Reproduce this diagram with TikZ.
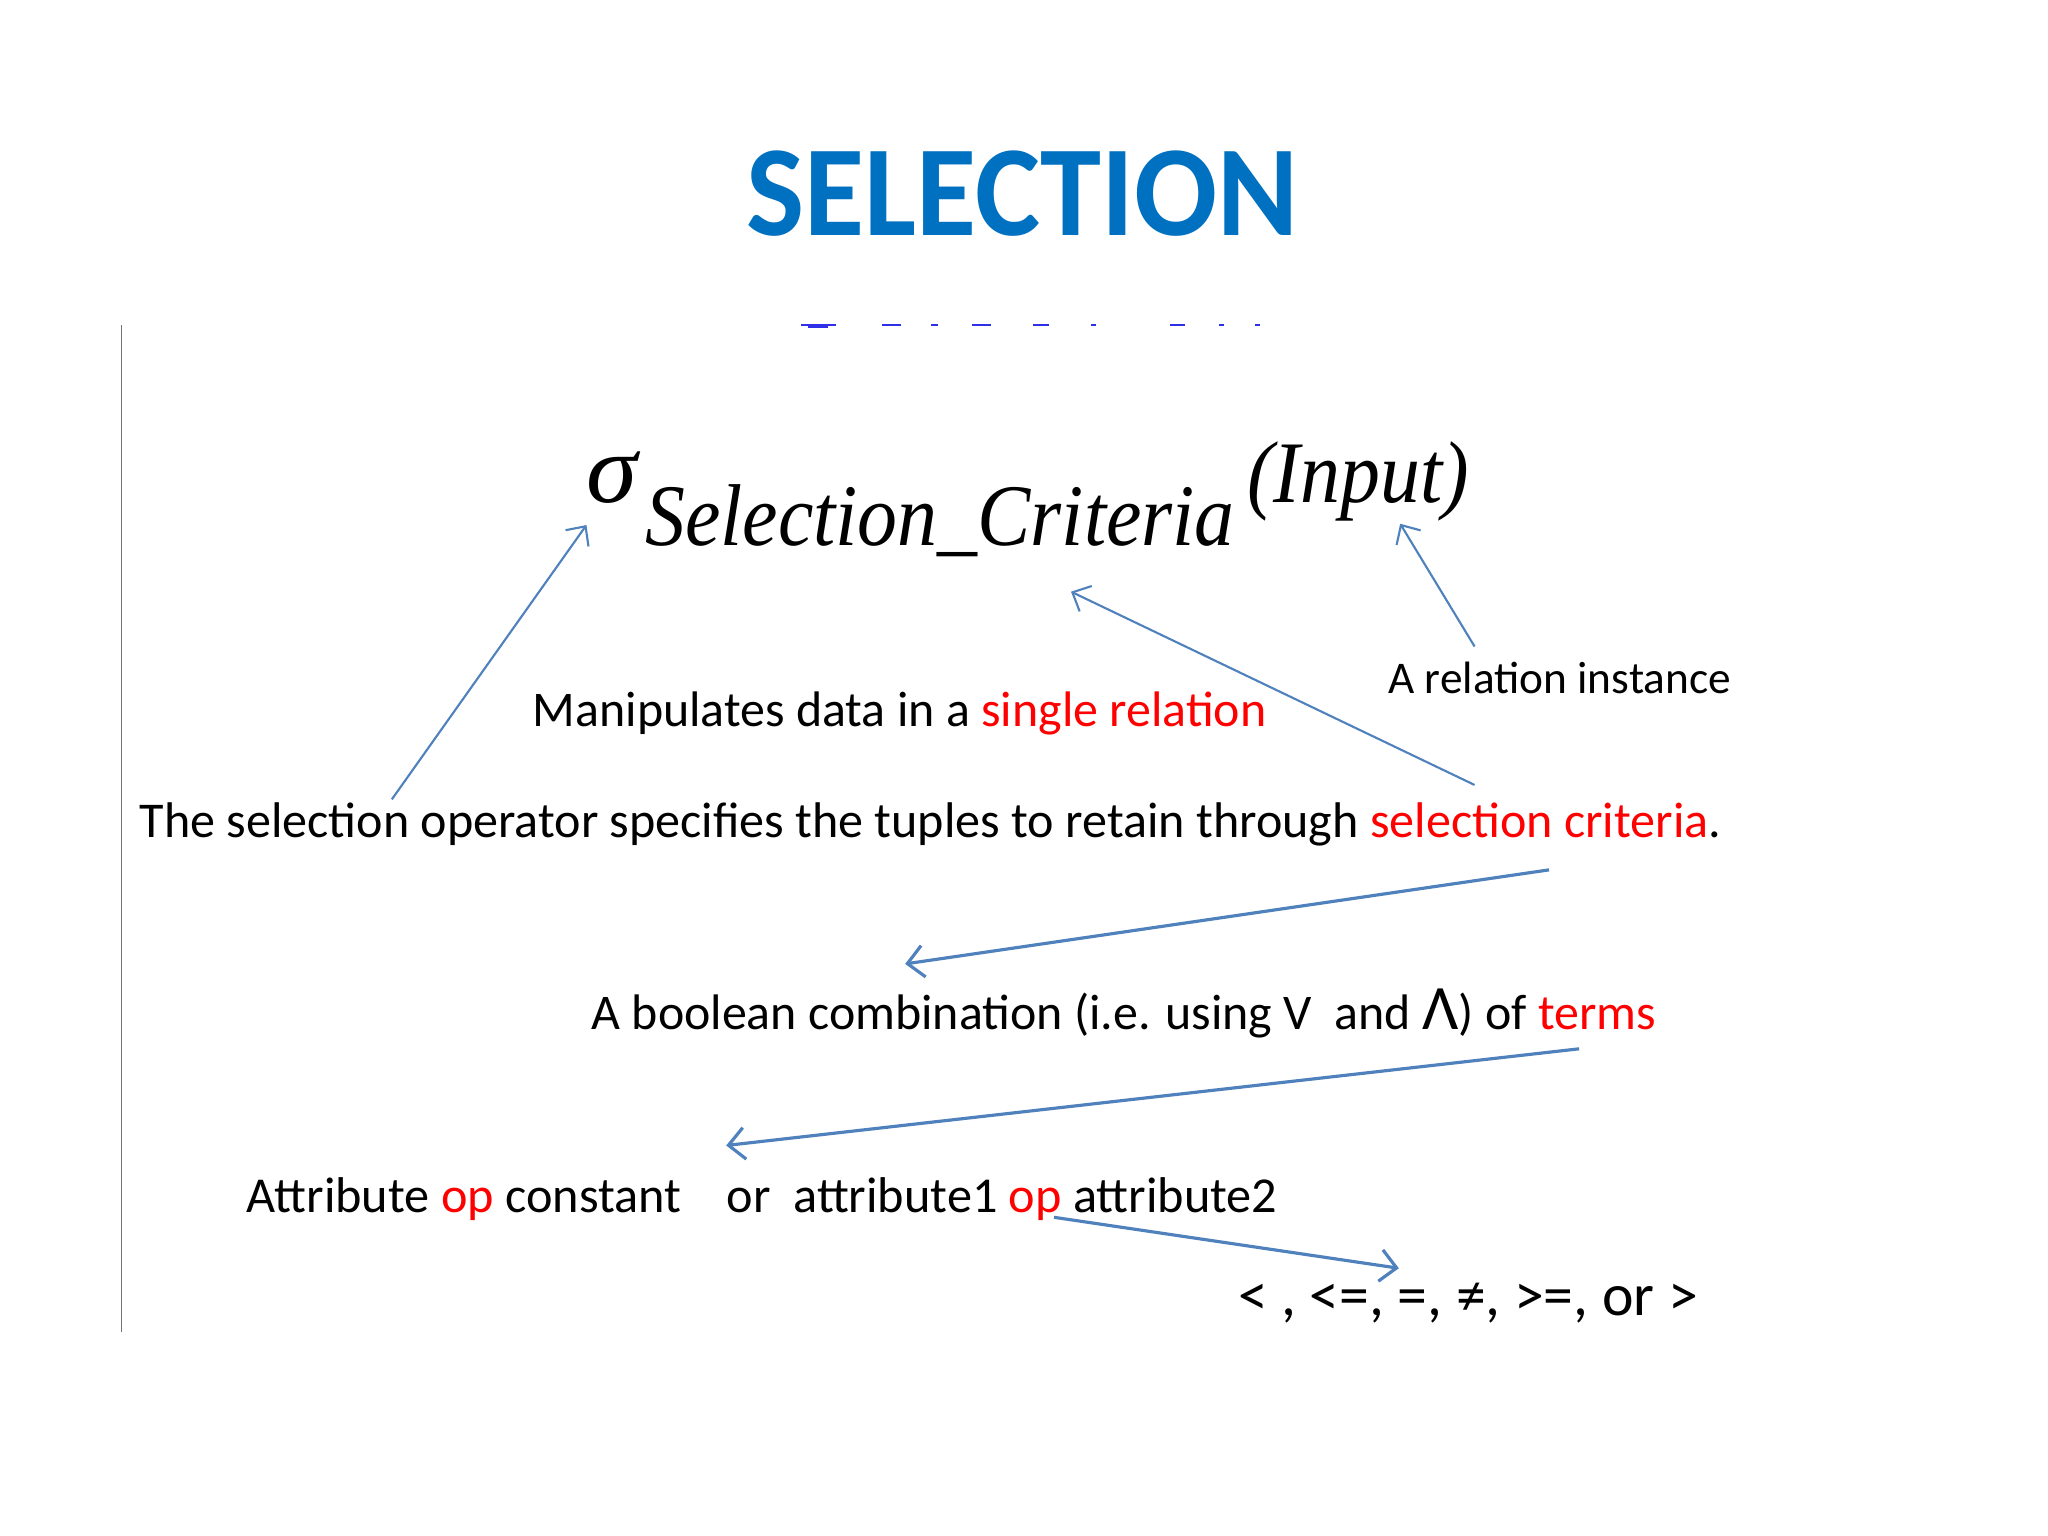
\documentclass[tikz,border=0pt]{standalone}
\usepackage{fontspec}
\setmainfont{Carlito}
\newfontfamily\formfont{Liberation Serif}
\newfontfamily\opfont{Carlito}
\usetikzlibrary{arrows.meta}
\definecolor{titleblue}{HTML}{0070C0}
\definecolor{arrowblue}{HTML}{4F81BD}
\definecolor{txtred}{HTML}{FF0000}
\definecolor{marksblue}{HTML}{3030E8}
\tikzset{
  lbl/.style={anchor=base west, inner sep=0pt, outer sep=0pt, text=black},
  conn/.style={draw=arrowblue, line width=0.6pt, -{Straight Barb[length=4.2pt,width=8pt]}},
  connthick/.style={draw=arrowblue, line width=0.9pt, -{Straight Barb[length=4.6pt,width=9pt]}},
}
\newcommand{\fs}[1]{\fontsize{#1}{#1}\selectfont}
\begin{document}
\begin{tikzpicture}[x=0.013061cm, y=-0.013061cm]
\useasboundingbox[fill=white] (0,0) rectangle (1568,1176);
% title
\node[anchor=base, inner sep=0pt, text=titleblue] (title) at (783,180) {\scalebox{1}[1.05]{\fs{35}\bfseries SELECTION}};
% left rule
\draw[draw=black!55, line width=0.5pt] (93,249) -- (93,1020);
% remnants of cut-off text
\foreach \a/\b in {613/640,675/690,713/718,744/759,791/803,835/839,896/907,933/937,961/965}
  \fill[marksblue] (\a,247.8) rectangle (\b,249.8);
\fill[marksblue] (619,249) rectangle (634,251.5);
% formula
\node[lbl] (sigma) at (449,385) {\scalebox{1.05}[1]{\formfont\itshape\fs{28}σ}};
\node[lbl] (crit) at (494,418) {\scalebox{1}[1.1]{\formfont\itshape\fs{22.7}Selection\_Criteria}};
\node[lbl] (input) at (955,385) {\scalebox{1}[1.1]{\formfont\itshape\fs{22.7}(Input)}};
% texts
\node[lbl] (manip) at (408,556) {\fs{14.2}Manipulates data in a \textcolor{txtred}{single relation}};
\node[lbl] (relinst) at (1063,531) {\fs{12.9}A relation instance};
\node[lbl] (selop) at (107,641) {\fs{14.25}The selection operator specifies the tuples to retain through \textcolor{txtred}{selection criteria}.};
\node[lbl] (bool) at (453,788) {\fs{14.2}A boolean combination (i.e. using V~ and {\fs{18}Λ}) of \textcolor{txtred}{terms}};
\node[lbl] (attr) at (189,928) {\fs{14.3}Attribute \textcolor{txtred}{op} constant~~~ or~ attribute1 \textcolor{txtred}{op} attribute2};
\node[lbl] (ops) at (948,1007) {\opfont\fs{17}< , <=, =, ≠, >=, or >};
% connector end points
\coordinate (a1s) at (300,612);  \coordinate (a1e) at (449,402);
\coordinate (a2s) at (1129,601); \coordinate (a2e) at (820,453);
\coordinate (a3s) at (1129,495); \coordinate (a3e) at (1072,401);
\coordinate (a4s) at (1186,666); \coordinate (a4e) at (693,738);
\coordinate (a5s) at (1209,803); \coordinate (a5e) at (556,877);
\coordinate (a6s) at (807,932);  \coordinate (a6e) at (1071,971);
\draw[conn] (a1s) -- (a1e);
\draw[conn] (a2s) -- (a2e);
\draw[conn] (a3s) -- (a3e);
\draw[connthick] (a4s) -- (a4e);
\draw[connthick] (a5s) -- (a5e);
\draw[connthick] (a6s) -- (a6e);
\end{tikzpicture}
\end{document}
